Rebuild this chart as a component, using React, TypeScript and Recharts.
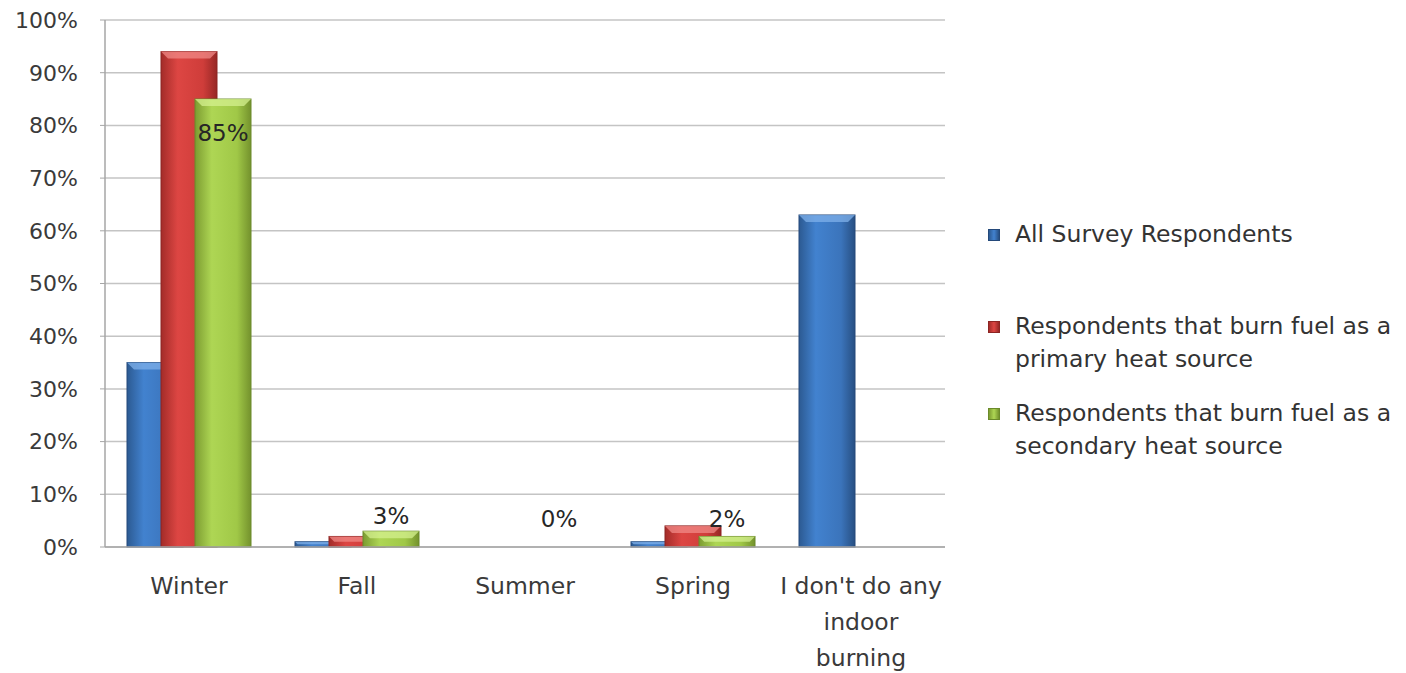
import { BarChart, Bar, XAxis, YAxis, CartesianGrid, Legend, LabelList } from 'recharts'

const categories = ['Winter', 'Fall', 'Summer', 'Spring', "I don't do any\nindoor\nburning"]
const allRespondents = [35, 1, 0, 1, 63]
const primaryHeat = [94, 2, 0, 4, null]
const secondaryHeat = [85, 3, 0, 2, null]
const yTicks = [0, 10, 20, 30, 40, 50, 60, 70, 80, 90, 100]

const FONT = '"DejaVu Sans", sans-serif'
const TEXT = '#3a3a3a'
const LEGEND_W = 418

const series = [
  {
    key: 'all',
    name: 'All Survey Respondents',
    lines: ['All Survey Respondents'],
    stops: ['#2c5a92', '#4282cf', '#3b74bb', '#274f82'],
    edge: '#24497a',
    light: '#7fb0ea',
  },
  {
    key: 'primary',
    name: 'Respondents that burn fuel as a primary heat source',
    lines: ['Respondents that burn fuel as a', 'primary heat source'],
    stops: ['#a32c29', '#dd4643', '#cf3d3a', '#962725'],
    edge: '#8c2523',
    light: '#f08a87',
  },
  {
    key: 'secondary',
    name: 'Respondents that burn fuel as a secondary heat source',
    lines: ['Respondents that burn fuel as a', 'secondary heat source'],
    stops: ['#7c9c31', '#aed654', '#a0c847', '#74922d'],
    edge: '#6b8a2a',
    light: '#d4f08f',
  },
]

const data = categories.map((c, i) => ({
  name: c,
  all: allRespondents[i],
  primary: primaryHeat[i],
  secondary: secondaryHeat[i],
}))

function BevelBar(props: any) {
  const { x, y, width, height, s } = props
  if (!height || height <= 0) return null
  const b = Math.min(7, height / 2, width / 4)
  return (
    <g>
      <rect x={x} y={y} width={width} height={height} fill={`url(#grad-${s.key})`} stroke={s.edge} strokeWidth={1} />
      <polygon
        points={`${x},${y} ${x + width},${y} ${x + width - b},${y + b} ${x + b},${y + b}`}
        fill={s.light}
        opacity={0.75}
      />
    </g>
  )
}

function CategoryTick(props: any) {
  const { x, y, payload } = props
  const lines = String(payload.value).split('\n')
  return (
    <text x={x} y={y + 47} textAnchor="middle" fill={TEXT} fontSize={23.5} fontFamily={FONT}>
      {lines.map((l, i) => (
        <tspan key={i} x={x} dy={i === 0 ? 0 : 36}>
          {l}
        </tspan>
      ))}
    </text>
  )
}

function renderSecondaryLabel(props: any) {
  const { x, y, width, height, value, index } = props
  if (value == null) return null
  const cx = x + width / 2
  const base = y + height
  const ty = index === 0 ? y + 34 : Math.min(y - 15, base - 28)
  return (
    <text x={cx} y={ty} textAnchor="middle" dominantBaseline="central" fill="#262626" fontSize={23} fontFamily={FONT}>
      {value}%
    </text>
  )
}

function LegendBox() {
  const gaps = [59, 21, 0]
  return (
    <div style={{ fontFamily: FONT, fontSize: 23.5, color: '#333', lineHeight: '33px' }}>
      {series.map((s, i) => (
        <div key={s.key} style={{ display: 'flex', alignItems: 'flex-start', marginBottom: gaps[i] }}>
          <div
            style={{
              width: 12,
              height: 12,
              marginTop: 11,
              marginRight: 15,
              flexShrink: 0,
              background: `linear-gradient(to right, ${s.stops[0]}, ${s.stops[1]}, ${s.stops[3]})`,
              border: `1px solid ${s.edge}`,
              boxSizing: 'border-box',
            }}
          />
          <div>
            {s.lines.map((l) => (
              <div key={l} style={{ whiteSpace: 'nowrap' }}>
                {l}
              </div>
            ))}
          </div>
        </div>
      ))}
    </div>
  )
}

export default function App() {
  return (
    <div style={{ position: 'absolute', left: 0, top: 0, width: 1406, height: 673, background: '#fff' }}>
      <BarChart
        width={1406}
        height={673}
        data={data}
        margin={{ top: 20, right: 461 - LEGEND_W, bottom: 0, left: 0 }}
        barSize={56}
        barGap={-22}
      >
        <defs>
          {series.map((s) => (
            <linearGradient key={s.key} id={`grad-${s.key}`} x1="0" y1="0" x2="1" y2="0">
              <stop offset="0%" stopColor={s.stops[0]} />
              <stop offset="30%" stopColor={s.stops[1]} />
              <stop offset="75%" stopColor={s.stops[2]} />
              <stop offset="100%" stopColor={s.stops[3]} />
            </linearGradient>
          ))}
        </defs>
        <CartesianGrid vertical={false} stroke="#c4c4c4" strokeWidth={1.5} />
        <XAxis
          dataKey="name"
          height={126}
          tick={<CategoryTick />}
          tickLine={false}
          tickSize={0}
          tickMargin={0}
          axisLine={{ stroke: '#a6a6a6', strokeWidth: 1.5 }}
          interval={0}
        />
        <YAxis
          width={105}
          domain={[0, 100]}
          ticks={yTicks}
          tickFormatter={(v: number) => `${v}%`}
          tick={{ fill: TEXT, fontSize: 22, fontFamily: FONT }}
          tickSize={5}
          tickMargin={22}
          tickLine={{ stroke: '#a6a6a6' }}
          axisLine={{ stroke: '#a6a6a6', strokeWidth: 1.5 }}
          interval={0}
        />
        <Legend
          layout="vertical"
          align="right"
          verticalAlign="top"
          wrapperStyle={{ left: 988, top: 218, right: 'auto', width: LEGEND_W }}
          content={() => <LegendBox />}
        />
        {series.map((s) => (
          <Bar
            key={s.key}
            dataKey={s.key}
            name={s.name}
            isAnimationActive={false}
            shape={(p: any) => <BevelBar {...p} s={s} />}
          >
            {s.key === 'secondary' && <LabelList dataKey="secondary" content={renderSecondaryLabel} />}
          </Bar>
        ))}
      </BarChart>
    </div>
  )
}
